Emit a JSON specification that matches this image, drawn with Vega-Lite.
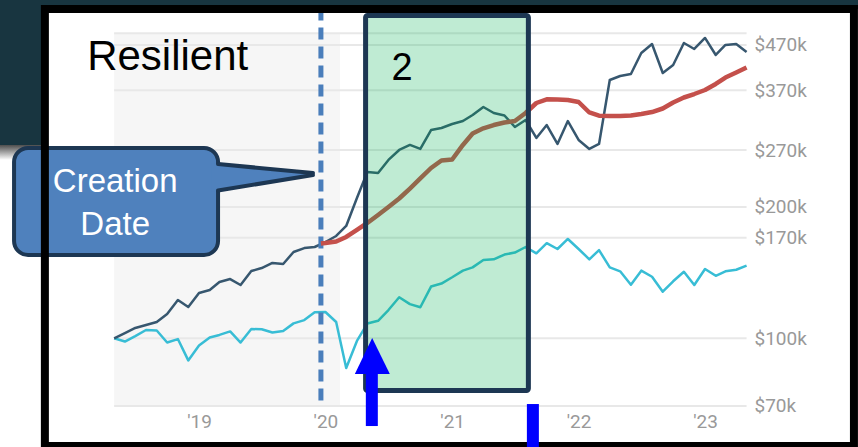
{
  "$schema": "https://vega.github.io/schema/vega-lite/v6.json",
  "width": 858,
  "height": 447,
  "autosize": "none",
  "padding": 0,
  "background": "white",
  "config": {"view": {"stroke": null}},
  "datasets": {
    "prices": [
      {"date":"2018-05-01","series":"fund","value":100000},
      {"date":"2018-06-01","series":"fund","value":102800},
      {"date":"2018-07-01","series":"fund","value":105600},
      {"date":"2018-08-01","series":"fund","value":107300},
      {"date":"2018-09-01","series":"fund","value":109000},
      {"date":"2018-10-01","series":"fund","value":113700},
      {"date":"2018-11-01","series":"fund","value":122400},
      {"date":"2018-12-01","series":"fund","value":118000},
      {"date":"2019-01-01","series":"fund","value":127000},
      {"date":"2019-02-01","series":"fund","value":129000},
      {"date":"2019-03-01","series":"fund","value":134600},
      {"date":"2019-04-01","series":"fund","value":136700},
      {"date":"2019-05-01","series":"fund","value":132500},
      {"date":"2019-06-01","series":"fund","value":142600},
      {"date":"2019-07-01","series":"fund","value":144900},
      {"date":"2019-08-01","series":"fund","value":148800},
      {"date":"2019-09-01","series":"fund","value":148000},
      {"date":"2019-10-01","series":"fund","value":157700},
      {"date":"2019-11-01","series":"fund","value":161000},
      {"date":"2019-12-01","series":"fund","value":161900},
      {"date":"2020-01-01","series":"fund","value":166200},
      {"date":"2020-02-01","series":"fund","value":171600},
      {"date":"2020-03-01","series":"fund","value":180900},
      {"date":"2020-04-01","series":"fund","value":209700},
      {"date":"2020-05-01","series":"fund","value":240500},
      {"date":"2020-06-01","series":"fund","value":239200},
      {"date":"2020-07-01","series":"fund","value":256300},
      {"date":"2020-08-01","series":"fund","value":270100},
      {"date":"2020-09-01","series":"fund","value":277400},
      {"date":"2020-10-01","series":"fund","value":271600},
      {"date":"2020-11-01","series":"fund","value":300100},
      {"date":"2020-12-01","series":"fund","value":303300},
      {"date":"2021-01-01","series":"fund","value":309800},
      {"date":"2021-02-01","series":"fund","value":314700},
      {"date":"2021-03-01","series":"fund","value":324800},
      {"date":"2021-04-01","series":"fund","value":338900},
      {"date":"2021-05-01","series":"fund","value":328300},
      {"date":"2021-06-01","series":"fund","value":324000},
      {"date":"2021-07-01","series":"fund","value":304900},
      {"date":"2021-08-01","series":"fund","value":316400},
      {"date":"2021-09-01","series":"fund","value":287800},
      {"date":"2021-10-01","series":"fund","value":308100},
      {"date":"2021-11-01","series":"fund","value":278800},
      {"date":"2021-12-01","series":"fund","value":314700},
      {"date":"2022-01-01","series":"fund","value":284800},
      {"date":"2022-02-01","series":"fund","value":271600},
      {"date":"2022-03-01","series":"fund","value":278800},
      {"date":"2022-04-01","series":"fund","value":390700},
      {"date":"2022-05-01","series":"fund","value":399000},
      {"date":"2022-06-01","series":"fund","value":403300},
      {"date":"2022-07-01","series":"fund","value":450600},
      {"date":"2022-08-01","series":"fund","value":472500},
      {"date":"2022-09-01","series":"fund","value":405400},
      {"date":"2022-10-01","series":"fund","value":422900},
      {"date":"2022-11-01","series":"fund","value":475000},
      {"date":"2022-12-01","series":"fund","value":460200},
      {"date":"2023-01-01","series":"fund","value":487800},
      {"date":"2023-02-01","series":"fund","value":445900},
      {"date":"2023-03-01","series":"fund","value":470100},
      {"date":"2023-04-01","series":"fund","value":472500},
      {"date":"2023-05-01","series":"fund","value":453000},
      {"date":"2018-05-01","series":"benchmark","value":100000},
      {"date":"2018-06-01","series":"benchmark","value":98300},
      {"date":"2018-07-01","series":"benchmark","value":101200},
      {"date":"2018-08-01","series":"benchmark","value":104500},
      {"date":"2018-09-01","series":"benchmark","value":104200},
      {"date":"2018-10-01","series":"benchmark","value":97800},
      {"date":"2018-11-01","series":"benchmark","value":99600},
      {"date":"2018-12-01","series":"benchmark","value":89000},
      {"date":"2019-01-01","series":"benchmark","value":96300},
      {"date":"2019-02-01","series":"benchmark","value":100400},
      {"date":"2019-03-01","series":"benchmark","value":101800},
      {"date":"2019-04-01","series":"benchmark","value":103700},
      {"date":"2019-05-01","series":"benchmark","value":97800},
      {"date":"2019-06-01","series":"benchmark","value":105000},
      {"date":"2019-07-01","series":"benchmark","value":104900},
      {"date":"2019-08-01","series":"benchmark","value":103100},
      {"date":"2019-09-01","series":"benchmark","value":103900},
      {"date":"2019-10-01","series":"benchmark","value":108200},
      {"date":"2019-11-01","series":"benchmark","value":110100},
      {"date":"2019-12-01","series":"benchmark","value":114700},
      {"date":"2020-01-01","series":"benchmark","value":114900},
      {"date":"2020-02-01","series":"benchmark","value":109000},
      {"date":"2020-03-01","series":"benchmark","value":85500},
      {"date":"2020-04-01","series":"benchmark","value":98600},
      {"date":"2020-05-01","series":"benchmark","value":108100},
      {"date":"2020-06-01","series":"benchmark","value":109700},
      {"date":"2020-07-01","series":"benchmark","value":116100},
      {"date":"2020-08-01","series":"benchmark","value":124200},
      {"date":"2020-09-01","series":"benchmark","value":119800},
      {"date":"2020-10-01","series":"benchmark","value":117800},
      {"date":"2020-11-01","series":"benchmark","value":131400},
      {"date":"2020-12-01","series":"benchmark","value":133500},
      {"date":"2021-01-01","series":"benchmark","value":138000},
      {"date":"2021-02-01","series":"benchmark","value":142900},
      {"date":"2021-03-01","series":"benchmark","value":145400},
      {"date":"2021-04-01","series":"benchmark","value":151200},
      {"date":"2021-05-01","series":"benchmark","value":151700},
      {"date":"2021-06-01","series":"benchmark","value":155600},
      {"date":"2021-07-01","series":"benchmark","value":157200},
      {"date":"2021-08-01","series":"benchmark","value":161900},
      {"date":"2021-09-01","series":"benchmark","value":156600},
      {"date":"2021-10-01","series":"benchmark","value":165200},
      {"date":"2021-11-01","series":"benchmark","value":160200},
      {"date":"2021-12-01","series":"benchmark","value":168900},
      {"date":"2022-01-01","series":"benchmark","value":160200},
      {"date":"2022-02-01","series":"benchmark","value":151700},
      {"date":"2022-03-01","series":"benchmark","value":159300},
      {"date":"2022-04-01","series":"benchmark","value":145400},
      {"date":"2022-05-01","series":"benchmark","value":142400},
      {"date":"2022-06-01","series":"benchmark","value":132700},
      {"date":"2022-07-01","series":"benchmark","value":142900},
      {"date":"2022-08-01","series":"benchmark","value":138400},
      {"date":"2022-09-01","series":"benchmark","value":127900},
      {"date":"2022-10-01","series":"benchmark","value":135100},
      {"date":"2022-11-01","series":"benchmark","value":142100},
      {"date":"2022-12-01","series":"benchmark","value":132500},
      {"date":"2023-01-01","series":"benchmark","value":144200},
      {"date":"2023-02-01","series":"benchmark","value":139100},
      {"date":"2023-03-01","series":"benchmark","value":142400},
      {"date":"2023-04-01","series":"benchmark","value":143600},
      {"date":"2023-05-01","series":"benchmark","value":146700},
      {"date":"2019-12-19","series":"trend","value":164900},
      {"date":"2020-01-01","series":"trend","value":165300},
      {"date":"2020-02-01","series":"trend","value":166700},
      {"date":"2020-03-01","series":"trend","value":170700},
      {"date":"2020-04-01","series":"trend","value":177100},
      {"date":"2020-05-01","series":"trend","value":183800},
      {"date":"2020-06-01","series":"trend","value":191700},
      {"date":"2020-07-01","series":"trend","value":199900},
      {"date":"2020-08-01","series":"trend","value":209100},
      {"date":"2020-09-01","series":"trend","value":220400},
      {"date":"2020-10-01","series":"trend","value":232400},
      {"date":"2020-11-01","series":"trend","value":245600},
      {"date":"2020-12-01","series":"trend","value":255600},
      {"date":"2021-01-01","series":"trend","value":256900},
      {"date":"2021-02-01","series":"trend","value":277400},
      {"date":"2021-03-01","series":"trend","value":294600},
      {"date":"2021-04-01","series":"trend","value":302800},
      {"date":"2021-05-01","series":"trend","value":308100},
      {"date":"2021-06-01","series":"trend","value":312200},
      {"date":"2021-07-01","series":"trend","value":314700},
      {"date":"2021-08-01","series":"trend","value":328300},
      {"date":"2021-09-01","series":"trend","value":346100},
      {"date":"2021-10-01","series":"trend","value":352900},
      {"date":"2021-11-01","series":"trend","value":352500},
      {"date":"2021-12-01","series":"trend","value":351600},
      {"date":"2022-01-01","series":"trend","value":347900},
      {"date":"2022-02-01","series":"trend","value":329200},
      {"date":"2022-03-01","series":"trend","value":323600},
      {"date":"2022-04-01","series":"trend","value":323100},
      {"date":"2022-05-01","series":"trend","value":323100},
      {"date":"2022-06-01","series":"trend","value":324000},
      {"date":"2022-07-01","series":"trend","value":326600},
      {"date":"2022-08-01","series":"trend","value":330000},
      {"date":"2022-09-01","series":"trend","value":336200},
      {"date":"2022-10-01","series":"trend","value":347000},
      {"date":"2022-11-01","series":"trend","value":356300},
      {"date":"2022-12-01","series":"trend","value":362900},
      {"date":"2023-01-01","series":"trend","value":370700},
      {"date":"2023-02-01","series":"trend","value":382600},
      {"date":"2023-03-01","series":"trend","value":395900},
      {"date":"2023-04-01","series":"trend","value":406500},
      {"date":"2023-05-01","series":"trend","value":417400}
    ]
  },
  "encoding": {
    "x": {
      "field": "date", "type": "temporal",
      "scale": {"type": "utc", "domain": [{"year": 2017, "month": 6, "date": 5, "hours": 10, "utc": true}, {"year": 2024, "month": 3, "date": 17, "hours": 17, "utc": true}], "nice": false},
      "axis": {"orient": "bottom", "offset": -41, "title": null, "grid": false, "domain": false, "ticks": false, "tickSize": 0, "labelPadding": 6,
        "values": [{"year": 2019, "month": 1, "date": 1, "utc": true}, {"year": 2020, "month": 1, "date": 1, "utc": true}, {"year": 2021, "month": 1, "date": 1, "utc": true}, {"year": 2022, "month": 1, "date": 1, "utc": true}, {"year": 2023, "month": 1, "date": 1, "utc": true}],
        "labelExpr": "utcFormat(datum.value, \"'%y\")", "labelFont": "Roboto", "labelFontSize": 19, "labelColor": "#999999", "labelOverlap": false, "labelFlush": false}
    },
    "y": {
      "field": "value", "type": "quantitative",
      "scale": {"type": "log", "domain": [56358, 595950], "nice": false, "zero": false},
      "axis": {"orient": "right", "offset": -111, "title": null, "grid": false, "domain": false, "ticks": false, "tickSize": 0, "labelPadding": 7,
        "values": [70000, 100000, 170000, 200000, 270000, 370000, 470000],
        "labelExpr": "'$' + format(datum.value / 1000, 'd') + 'k'", "labelFont": "Roboto", "labelFontSize": 19, "labelColor": "#999999", "labelOverlap": false, "labelFlush": false}
    }
  },
  "layer": [
    {
      "data": {"values": [
        {"date": "2017-04-01", "date2": "2017-10-02", "value": 700000, "value2": 277400},
        {"date": "2017-04-01", "date2": "2024-06-01", "value": 700000, "value2": 568300}
      ], "format": {"parse": {"date": "date", "date2": "date"}}},
      "mark": {"type": "rect", "color": "#183540"},
      "encoding": {"x2": {"field": "date2"}, "y2": {"field": "value2"}}
    },
    {
      "data": {"values": [{"date": "2017-04-01", "date2": "2017-10-02", "value": 277400, "value2": 256300}], "format": {"parse": {"date": "date", "date2": "date"}}},
      "mark": {"type": "rect", "color": {"gradient": "linear", "x1": 0, "y1": 0, "x2": 0, "y2": 1, "stops": [{"offset": 0, "color": "#4d4d4d"}, {"offset": 1, "color": "#ffffff"}]}},
      "encoding": {"x2": {"field": "date2"}, "y2": {"field": "value2"}}
    },
    {
      "data": {"values": [{"date": "2018-05-01", "date2": "2020-02-12", "value": 500000, "value2": 70000}], "format": {"parse": {"date": "date", "date2": "date"}}},
      "mark": {"type": "rect", "color": "#f6f6f6"},
      "encoding": {"x2": {"field": "date2"}, "y2": {"field": "value2"}}
    },
    {
      "data": {"values": [
        {"date": "2018-05-01", "date2": "2023-05-01", "value": 70000},
        {"date": "2018-05-01", "date2": "2023-05-01", "value": 100000},
        {"date": "2018-05-01", "date2": "2023-05-01", "value": 170000},
        {"date": "2018-05-01", "date2": "2023-05-01", "value": 200000},
        {"date": "2018-05-01", "date2": "2023-05-01", "value": 270000},
        {"date": "2018-05-01", "date2": "2023-05-01", "value": 370000},
        {"date": "2018-05-01", "date2": "2023-05-01", "value": 470000},
        {"date": "2018-05-01", "date2": "2023-05-01", "value": 500000}
      ], "format": {"parse": {"date": "date", "date2": "date"}}},
      "mark": {"type": "rule", "color": "#e8e8e8", "strokeWidth": 2},
      "encoding": {"x2": {"field": "date2"}}
    },
    {
      "data": {"name": "prices"},
      "transform": [{"filter": "datum.series === 'benchmark'"}],
      "mark": {"type": "line", "color": "#38bdd5", "strokeWidth": 2.5, "strokeJoin": "round"}
    },
    {
      "data": {"name": "prices"},
      "transform": [{"filter": "datum.series === 'fund'"}],
      "mark": {"type": "line", "color": "#37576f", "strokeWidth": 2.5, "strokeJoin": "round"}
    },
    {
      "data": {"values": [{"date": "2019-12-19", "value": 570000, "value2": 70000}], "format": {"parse": {"date": "date"}}},
      "mark": {"type": "rule", "color": "#4a7ebb", "strokeWidth": 5, "strokeDash": [12, 7]},
      "encoding": {"y2": {"field": "value2"}}
    },
    {
      "data": {"name": "prices"},
      "transform": [{"filter": "datum.series === 'trend'"}],
      "mark": {"type": "line", "color": "#c4504b", "strokeWidth": 4.5, "strokeJoin": "round"}
    },
    {
      "data": {"values": [{"date": "2020-04-26", "date2": "2021-08-09", "value": 549100, "value2": 75900}], "format": {"parse": {"date": "date", "date2": "date"}}},
      "mark": {"type": "rect", "fill": "#00b050", "fillOpacity": 0.25, "stroke": "#1d3753", "strokeWidth": 5, "cornerRadius": 2},
      "encoding": {"x2": {"field": "date2"}, "y2": {"field": "value2"}}
    },
    {
      "data": {"values": [{"date": "2018-02-12", "value": 412000, "label": "Resilient"}], "format": {"parse": {"date": "date"}}},
      "mark": {"type": "text", "align": "left", "baseline": "alphabetic", "font": "Liberation Sans", "fontSize": 42, "color": "#000000"},
      "encoding": {"text": {"field": "label"}}
    },
    {
      "data": {"values": [{"date": "2020-08-09", "value": 390700, "label": "2"}], "format": {"parse": {"date": "date"}}},
      "mark": {"type": "text", "align": "center", "baseline": "alphabetic", "font": "Liberation Sans", "fontSize": 38, "color": "#000000"},
      "encoding": {"text": {"field": "label"}}
    },
    {
      "data": {"values": [{"date": "2017-07-16", "date2": "2019-02-25", "value": 272950, "value2": 155190}], "format": {"parse": {"date": "date", "date2": "date"}}},
      "mark": {"type": "rect", "fill": "#4f81bd", "stroke": "#1d3753", "strokeWidth": 4, "cornerRadius": 14},
      "encoding": {"x2": {"field": "date2"}, "y2": {"field": "value2"}}
    },
    {
      "data": {"values": [
        {"date": "2019-02-07", "value": 251600, "value2": 216970},
        {"date": "2019-11-26", "value": 239200, "value2": 236740}
      ], "format": {"parse": {"date": "date"}}},
      "mark": {"type": "area", "color": "#4f81bd", "opacity": 1},
      "encoding": {"y2": {"field": "value2"}}
    },
    {
      "data": {"values": [
        {"date": "2019-02-25", "value": 250800, "edge": "top"},
        {"date": "2019-11-26", "value": 239200, "edge": "top"},
        {"date": "2019-02-25", "value": 218100, "edge": "bottom"},
        {"date": "2019-11-26", "value": 236740, "edge": "bottom"}
      ], "format": {"parse": {"date": "date"}}},
      "mark": {"type": "line", "color": "#1d3753", "strokeWidth": 4, "strokeCap": "round"},
      "encoding": {"detail": {"field": "edge"}}
    },
    {
      "data": {"values": [
        {"date": "2018-05-04", "value": 216400, "label": "Creation"},
        {"date": "2018-05-04", "value": 172500, "label": "Date"}
      ], "format": {"parse": {"date": "date"}}},
      "mark": {"type": "text", "align": "center", "baseline": "alphabetic", "font": "Liberation Sans", "fontSize": 33, "color": "#ffffff"},
      "encoding": {"text": {"field": "label"}}
    },
    {
      "data": {"values": [
        {"date": "2020-03-26", "value": 82830, "value2": 82830},
        {"date": "2020-05-15", "value": 100160, "value2": 82830},
        {"date": "2020-07-05", "value": 82830, "value2": 82830}
      ], "format": {"parse": {"date": "date"}}},
      "mark": {"type": "area", "color": "#0000ff", "opacity": 1},
      "encoding": {"y2": {"field": "value2"}}
    },
    {
      "data": {"values": [{"date": "2020-05-14", "value": 83500, "value2": 62950}], "format": {"parse": {"date": "date"}}},
      "mark": {"type": "rule", "color": "#0000ff", "strokeWidth": 12},
      "encoding": {"y2": {"field": "value2"}}
    },
    {
      "data": {"values": [{"date": "2017-10-13", "date2": "2024-03-06", "value": 568300, "value2": 56660}], "format": {"parse": {"date": "date", "date2": "date"}}},
      "mark": {"type": "rect", "fill": "#ffffff", "fillOpacity": 0, "stroke": "#000000", "strokeWidth": 8},
      "encoding": {"x2": {"field": "date2"}, "y2": {"field": "value2"}}
    },
    {
      "data": {"values": [{"date": "2021-08-22", "value": 70700, "value2": 52620}], "format": {"parse": {"date": "date"}}},
      "mark": {"type": "rule", "color": "#0000ff", "strokeWidth": 12},
      "encoding": {"y2": {"field": "value2"}}
    }
  ]
}
